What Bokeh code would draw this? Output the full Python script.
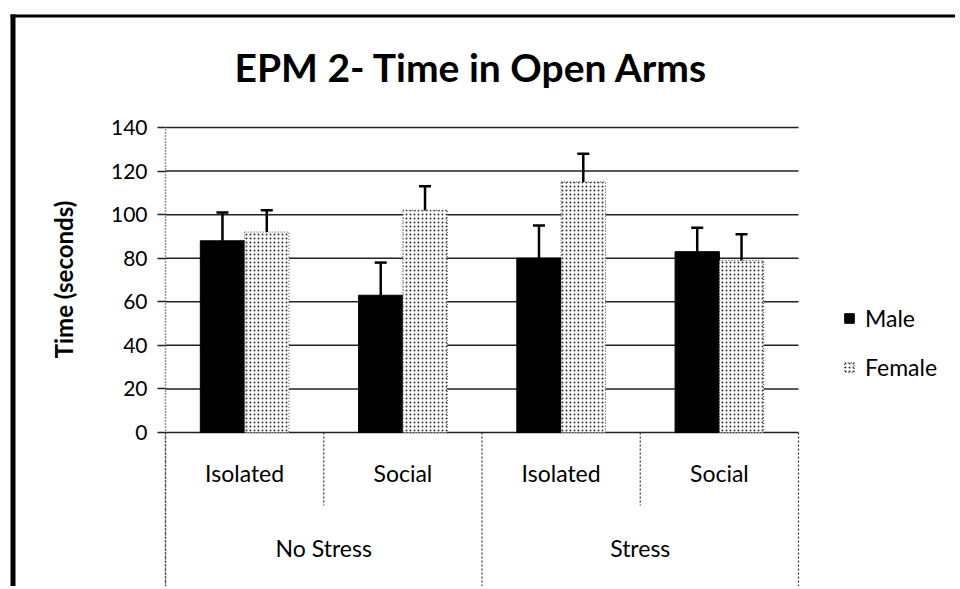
from bokeh.plotting import figure
from bokeh.models import (FactorRange, Range1d, ColumnDataSource, FixedTicker, LinearAxis,
                          Whisker, TeeHead, Legend, LegendItem, Label, BoxAnnotation)
from bokeh.transform import dodge
from bokeh.core.properties import value
from bokeh.embed import file_html
from bokeh.resources import INLINE

# ---------------- data ----------------
conditions = ["No Stress", "Stress"]
housing = ["Isolated", "Social"]
series = ["Male", "Female"]
male_mean = [88, 63, 80, 83]
male_sem = [13, 15, 15, 11]
female_mean = [92, 102, 115, 79]
female_sem = [10, 11, 13, 12]
y_ticks = [0, 20, 40, 60, 80, 100, 120, 140]
title_text = "EPM 2- Time in Open Arms"
y_label = "Time (seconds)"

factors = [(c, h) for c in conditions for h in housing]

src = ColumnDataSource(dict(
    x=factors,
    male=male_mean,
    male_top=[m + e for m, e in zip(male_mean, male_sem)],
    female=female_mean,
    female_top=[m + e for m, e in zip(female_mean, female_sem)],
))

FONT = "Lato"
W, H = 955, 586
FRAME_LEFT = 8                     # canvas x where the frame begins
PLOT_LEFT = 165                    # canvas x of the value axis
CAT_PX = 158.25                    # width of one category in px
ZERO_Y, TOP_Y = 432, 127           # canvas y of 0 and of the top tick
PX_PER_UNIT = (ZERO_Y - TOP_Y) / y_ticks[-1]
y_bottom = -(H - ZERO_Y) / PX_PER_UNIT
y_top = y_ticks[-1] + TOP_Y / PX_PER_UNIT
pad_units = (PLOT_LEFT - FRAME_LEFT) / CAT_PX     # applied on each side


def sx(px):
    """canvas x -> frame-relative screen x"""
    return px - FRAME_LEFT


def sy(py):
    """canvas y (from top) -> frame-relative screen y (from bottom)"""
    return H - py


p = figure(
    x_range=FactorRange(*factors, factor_padding=0, group_padding=0,
                        range_padding=pad_units, range_padding_units="absolute"),
    y_range=Range1d(y_bottom, y_top),
    width=W, height=H,
    output_backend="svg", toolbar_location=None,
    x_axis_location=None, y_axis_location=None,
    min_border=0, min_border_left=FRAME_LEFT,
    outline_line_color=None,
    background_fill_color="white", border_fill_color="white",
)
p.xgrid.visible = False
p.ygrid.visible = False

# value axis, pinned at the left edge of the first category
yaxis = LinearAxis(fixed_location=0, bounds=(y_bottom, y_ticks[-1]),
                   ticker=FixedTicker(ticks=y_ticks))
yaxis.major_label_text_font = FONT
yaxis.major_label_text_font_size = "21px"
yaxis.major_label_text_color = "black"
yaxis.major_tick_out = 8
yaxis.major_tick_in = 0
yaxis.minor_tick_line_color = None
yaxis.major_tick_line_color = "#222222"
yaxis.major_tick_line_width = 1.5
yaxis.axis_line_color = "#333333"
yaxis.axis_line_dash = "1 2"
yaxis.axis_line_width = 1.5
yaxis.major_label_standoff = 10
p.add_layout(yaxis, "left")

# horizontal gridlines across the category area
grid_src = ColumnDataSource(dict(y=y_ticks, x0=[factors[0]] * len(y_ticks),
                                 x1=[factors[-1]] * len(y_ticks)))
p.segment(x0=dodge("x0", -0.5, range=p.x_range), x1=dodge("x1", 0.5, range=p.x_range),
          y0="y", y1="y", source=grid_src, line_color="#222222", line_width=1.5)

# bars
r_male = p.vbar(x=dodge("x", -0.14, range=p.x_range), top="male", bottom=0, width=0.28,
                source=src, fill_color="black", line_color="black")
r_female = p.vbar(x=dodge("x", 0.14, range=p.x_range), top="female", bottom=0, width=0.28,
                  source=src, fill_color="white", line_color="#333333", line_dash="1 2",
                  hatch_pattern=".", hatch_scale=4, hatch_weight=1.2, hatch_color="black",
                  hatch_alpha=0.8)

# error bars (upper only)
for off, lo, hi in [(-0.14, "male", "male_top"), (0.14, "female", "female_top")]:
    w = Whisker(source=src, base=dodge("x", off, range=p.x_range), lower=lo, upper=hi,
                upper_head=TeeHead(size=12, line_width=2.5, line_color="black"),
                lower_head=None, line_width=2.5, line_color="black", level="overlay")
    p.add_layout(w)

# category separators (below the zero line)
sub_src = ColumnDataSource(dict(x=[(c, housing[1]) for c in conditions]))
p.segment(x0=dodge("x", -0.5, range=p.x_range), x1=dodge("x", -0.5, range=p.x_range),
          y0=0, y1=-33.5, source=sub_src, line_color="#333333", line_dash="2 2", line_width=1.2)
grp_src = ColumnDataSource(dict(x=[(c, housing[0]) for c in conditions]))
p.segment(x0=dodge("x", -0.5, range=p.x_range), x1=dodge("x", -0.5, range=p.x_range),
          y0=0, y1=y_bottom - 5, source=grp_src, line_color="#333333", line_dash="2 2", line_width=1.2)
end_src = ColumnDataSource(dict(x=[factors[-1]]))
p.segment(x0=dodge("x", 0.5, range=p.x_range), x1=dodge("x", 0.5, range=p.x_range),
          y0=0, y1=y_bottom - 5, source=end_src, line_color="#333333", line_dash="2 2", line_width=1.2)

# category labels
lab_src = ColumnDataSource(dict(x=factors, t=[f[1] for f in factors]))
p.text(x="x", y=-18.8, text="t", source=lab_src, text_font=value(FONT), text_font_size="23px",
       text_align="center", text_baseline="middle", text_color="black")
grp_lab_src = ColumnDataSource(dict(x=conditions, t=conditions))
p.text(x="x", y=-52.8, text="t", source=grp_lab_src, text_font=value(FONT), text_font_size="23px",
       text_align="center", text_baseline="middle", text_color="black")

# title
p.add_layout(Label(x=sx(471), y=sy(66), x_units="screen", y_units="screen", text=title_text,
                   text_font=FONT, text_font_style="bold", text_font_size="39px",
                   text_align="center", text_baseline="alphabetic", text_color="black"))

# y axis title
p.add_layout(Label(x=sx(63), y=sy(279), x_units="screen", y_units="screen", text=y_label,
                   angle=1.5708, text_font=FONT, text_font_style="bold", text_font_size="24px",
                   text_align="center", text_baseline="middle", text_color="black"))

# scanned frame borders
p.add_layout(BoxAnnotation(left=sx(10), right=sx(15), bottom=-10, top=sy(14),
                           left_units="screen", right_units="screen",
                           bottom_units="screen", top_units="screen",
                           fill_color="black", fill_alpha=1, line_color=None, level="overlay"))
p.add_layout(BoxAnnotation(left=sx(10), right=sx(W + 5), bottom=sy(17), top=sy(14),
                           left_units="screen", right_units="screen",
                           bottom_units="screen", top_units="screen",
                           fill_color="black", fill_alpha=1, line_color=None, level="overlay"))

# legend
legend = Legend(items=[LegendItem(label=series[0], renderers=[r_male]),
                       LegendItem(label=series[1], renderers=[r_female])],
                location=(sx(843), sy(381)), orientation="vertical",
                label_text_font=FONT, label_text_font_size="23px", label_text_color="black",
                glyph_width=12, glyph_height=12, label_height=24, spacing=21,
                label_standoff=10, padding=0, margin=0,
                border_line_color=None, background_fill_alpha=0)
p.add_layout(legend)

open("out.html", "w").write(file_html(p, INLINE))
